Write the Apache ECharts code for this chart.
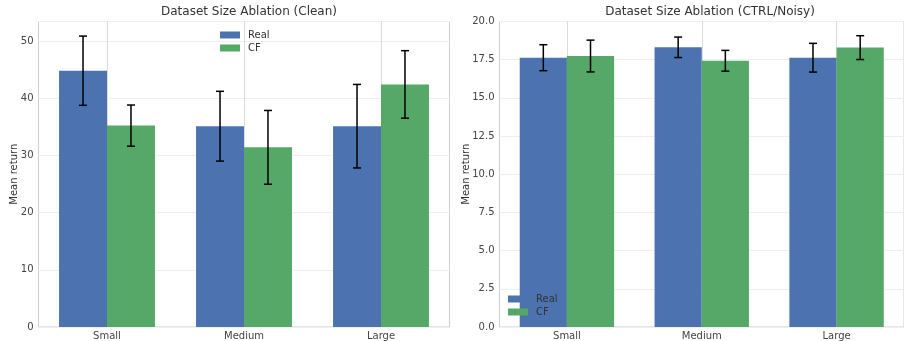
<!DOCTYPE html>
<html>
<head>
<meta charset="utf-8">
<script src="https://cdn.jsdelivr.net/npm/echarts@6/dist/echarts.min.js"></script>
<style>
html,body{margin:0;padding:0;background:#fff;}
#chart{width:904px;height:341px;}
</style>
</head>
<body>
<div id="chart"></div>
<script>
const categories = ['Small', 'Medium', 'Large'];
const seriesNames = ['Real', 'CF'];
// Left panel: Clean
const cleanReal = [44.8, 35.1, 35.1];
const cleanRealErr = [6.05, 6.1, 7.3];
const cleanCF = [35.2, 31.4, 42.4];
const cleanCFErr = [3.6, 6.45, 5.9];
// Right panel: CTRL/Noisy
const noisyReal = [17.63, 18.31, 17.63];
const noisyRealErr = [0.85, 0.67, 0.94];
const noisyCF = [17.74, 17.43, 18.29];
const noisyCFErr = [1.04, 0.68, 0.78];
const titles = ['Dataset Size Ablation (Clean)', 'Dataset Size Ablation (CTRL/Noisy)'];
const yName = 'Mean return';

const BLUE = '#4C72B0', GREEN = '#55A868';
const FONT = 'DejaVu Sans';
const BAR_FRAC = 0.35;

function errData(vals, errs) {
  return vals.map((v, i) => [i, v - errs[i], v + errs[i]]);
}
function errRenderer(side) {
  return function (params, api) {
    const i = api.value(0);
    const lo = api.value(1), hi = api.value(2);
    const band = api.size([1, 0])[0];
    const pTop = api.coord([i, hi]);
    const pBot = api.coord([i, lo]);
    const x = pTop[0] + side * band * BAR_FRAC / 2;
    const cap = 4;
    const style = { stroke: '#000', lineWidth: 1.5 };
    return {
      type: 'group',
      children: [
        { type: 'line', shape: { x1: x, y1: pTop[1], x2: x, y2: pBot[1] }, style: style },
        { type: 'line', shape: { x1: x - cap, y1: pTop[1], x2: x + cap, y2: pTop[1] }, style: style },
        { type: 'line', shape: { x1: x - cap, y1: pBot[1], x2: x + cap, y2: pBot[1] }, style: style }
      ]
    };
  };
}

const axisLabelStyle = { fontFamily: FONT, fontSize: 10, color: '#444' };

function xAxisCfg(gi) {
  return {
    type: 'category', gridIndex: gi, data: categories,
    axisLine: { show: false }, axisTick: { show: false },
    axisLabel: Object.assign({ margin: 4 }, axisLabelStyle),
    splitLine: { show: true, alignWithLabel: true, lineStyle: { color: '#dcdcdc', width: 1 } }
  };
}
function legendCfg(left, top) {
  return {
    data: seriesNames.map((n, k) => ({ name: n, itemStyle: { color: k ? GREEN : BLUE } })),
    orient: 'vertical', left: left, top: top, padding: 0,
    itemWidth: 20, itemHeight: 7, itemGap: 3,
    icon: 'rect', selectedMode: false,
    textStyle: { fontFamily: FONT, fontSize: 10, color: '#333', padding: [0, 0, 0, 3] }
  };
}

const chart = echarts.init(document.getElementById('chart'), null, { renderer: 'canvas' });
chart.setOption({
  backgroundColor: '#fff',
  animation: false,
  title: [
    { text: titles[0], left: 244, top: 1, textAlign: 'center',
      textStyle: { fontFamily: FONT, fontSize: 12, fontWeight: 'normal', color: '#333' } },
    { text: titles[1], left: 705, top: 1, textAlign: 'center',
      textStyle: { fontFamily: FONT, fontSize: 12, fontWeight: 'normal', color: '#333' } }
  ],
  legend: [legendCfg(220, 30), legendCfg(508, 294)],
  grid: [
    { left: 38.5, right: 454.5, top: 21.5, bottom: 14, show: true, borderColor: '#cfcfcf', borderWidth: 1, backgroundColor: 'transparent' },
    { left: 499.5, right: -6, top: 21.5, bottom: 14, show: true, borderColor: '#cfcfcf', borderWidth: 1, backgroundColor: 'transparent' }
  ],
  xAxis: [xAxisCfg(0), xAxisCfg(1)],
  yAxis: [
    { type: 'value', gridIndex: 0, min: 0, max: 53.4, interval: 10,
      name: yName, nameLocation: 'middle', nameGap: 19, nameMoveOverlap: false,
      nameTextStyle: { fontFamily: FONT, fontSize: 10, color: '#333' },
      axisLine: { show: false }, axisTick: { show: false },
      axisLabel: Object.assign({ margin: 5, showMaxLabel: false }, axisLabelStyle),
      splitLine: { lineStyle: { color: '#efefef', width: 1 } } },
    { type: 'value', gridIndex: 1, min: 0, max: 20, interval: 2.5,
      name: yName, nameLocation: 'middle', nameGap: 28, nameMoveOverlap: false,
      nameTextStyle: { fontFamily: FONT, fontSize: 10, color: '#333' },
      axisLine: { show: false }, axisTick: { show: false },
      axisLabel: Object.assign({ margin: 5, formatter: v => v.toFixed(1) }, axisLabelStyle),
      splitLine: { lineStyle: { color: '#efefef', width: 1 } } }
  ],
  series: [
    { name: 'Real', type: 'bar', xAxisIndex: 0, yAxisIndex: 0, data: cleanReal, barWidth: '35%', barGap: '0%', itemStyle: { color: BLUE } },
    { name: 'CF', type: 'bar', xAxisIndex: 0, yAxisIndex: 0, data: cleanCF, barWidth: '35%', barGap: '0%', itemStyle: { color: GREEN } },
    { name: 'Real', type: 'bar', xAxisIndex: 1, yAxisIndex: 1, data: noisyReal, barWidth: '35%', barGap: '0%', itemStyle: { color: BLUE } },
    { name: 'CF', type: 'bar', xAxisIndex: 1, yAxisIndex: 1, data: noisyCF, barWidth: '35%', barGap: '0%', itemStyle: { color: GREEN } },
    { type: 'custom', xAxisIndex: 0, yAxisIndex: 0, data: errData(cleanReal, cleanRealErr), renderItem: errRenderer(-1), z: 5, silent: true },
    { type: 'custom', xAxisIndex: 0, yAxisIndex: 0, data: errData(cleanCF, cleanCFErr), renderItem: errRenderer(1), z: 5, silent: true },
    { type: 'custom', xAxisIndex: 1, yAxisIndex: 1, data: errData(noisyReal, noisyRealErr), renderItem: errRenderer(-1), z: 5, silent: true },
    { type: 'custom', xAxisIndex: 1, yAxisIndex: 1, data: errData(noisyCF, noisyCFErr), renderItem: errRenderer(1), z: 5, silent: true }
  ]
});
</script>
</body>
</html>
